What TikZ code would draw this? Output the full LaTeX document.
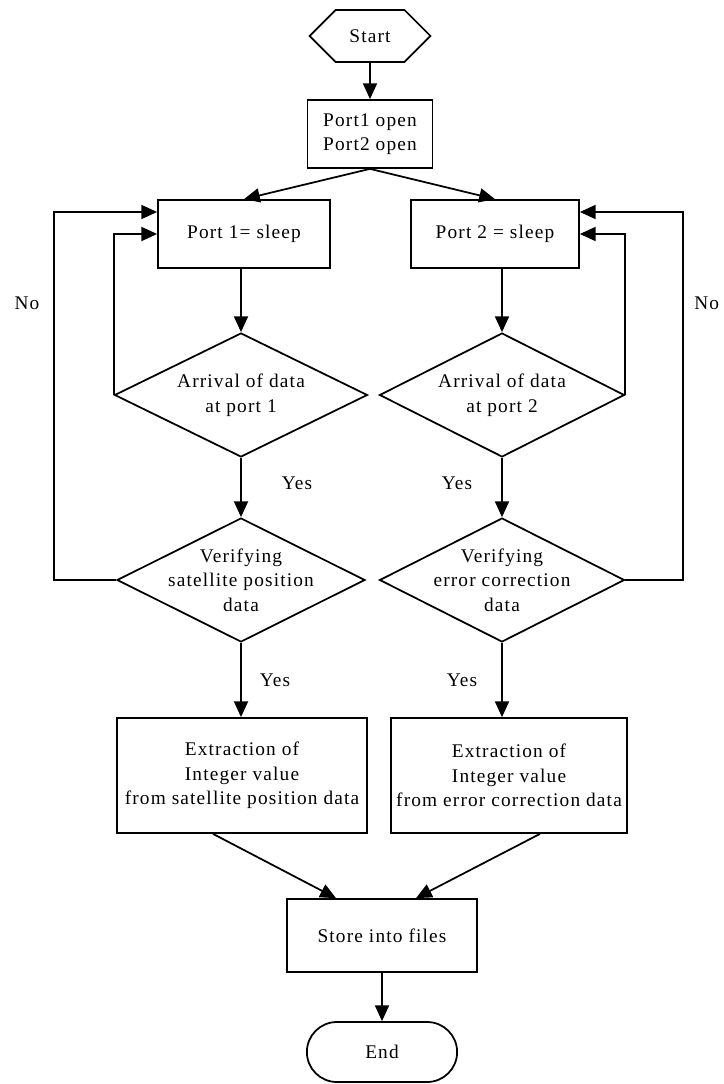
\documentclass[tikz,border=0pt]{standalone}
\usepackage{fontspec}
\setmainfont{Liberation Serif}[LetterSpace=6]
\usetikzlibrary{shapes.geometric, shapes.symbols, shapes.misc, arrows.meta}

\begin{document}
\begin{tikzpicture}[x=0.02cm, y=-0.02cm, >={Triangle[length=9pt,width=8pt]}, line width=1pt,
  every node/.style={font=\fontsize{11}{14}\selectfont},
  box/.style={draw, rectangle, align=center, inner sep=1pt},
  decision/.style={draw, diamond, aspect=2, align=center, inner sep=-4pt}]

\useasboundingbox (0,0) rectangle (723,1084);

% Nodes
\node (start) [draw, signal, signal to=west and east, minimum width=2.42cm, minimum height=1.04cm] at (370,36) {Start};
\node (ports) [box, minimum width=2.5cm, minimum height=1.36cm] at (370,134) {Port1 open\\Port2 open};
\node (sleepA) [box, minimum width=3.44cm, minimum height=1.36cm] at (244,234) {Port 1= sleep};
\node (sleepB) [box, minimum width=3.36cm, minimum height=1.36cm] at (495,234) {Port 2 = sleep};
\node (arriveA) [decision, minimum width=5.06cm, minimum height=2.48cm] at (241,395) {Arrival of data\\at port 1};
\node (arriveB) [decision, minimum width=4.9cm, minimum height=2.48cm] at (502,395) {Arrival of data\\at port 2};
\node (verifyA) [decision, minimum width=4.96cm, minimum height=2.48cm] at (241,580) {Verifying\\satellite position\\data};
\node (verifyB) [decision, minimum width=4.9cm, minimum height=2.48cm] at (502,580) {Verifying\\error correction\\data};
\node (extractA) [box, minimum width=5cm, minimum height=2.3cm] at (242,775.5) {Extraction of\\Integer value\\from satellite position data};
\node (extractB) [box, minimum width=4.72cm, minimum height=2.3cm] at (509,775.5) {Extraction of\\Integer value\\from error correction data};
\node (store) [box, minimum width=3.8cm, minimum height=1.46cm] at (382,935.5) {Store into files};
\node (finish) [draw, rounded rectangle, minimum width=3.24cm, minimum height=1.2cm] at (382,1052) {End};

% Labels
\node (noA) at (27,303) {No};
\node (noB) [anchor=east, inner sep=0pt] at (720,303) {No};
\node (yesA1) at (297,483) {Yes};
\node (yesB1) at (457,483) {Yes};
\node (yesA2) at (275,680) {Yes};
\node (yesB2) at (462,680) {Yes};

% Arrows
\draw[->] (start) -- (ports);
\draw[->] (ports.south) -- (sleepA.north);
\draw[->] (ports.south) -- (sleepB.north);
\draw[->] (arriveA.north |- sleepA.south) -- (arriveA.north);
\draw[->] (arriveB.north |- sleepB.south) -- (arriveB.north);
\draw[->] (arriveA.south) -- (verifyA.north);
\draw[->] (arriveB.south) -- (verifyB.north);
\draw[->] (verifyA.south) -- (verifyA.south |- extractA.north);
\draw[->] (verifyB.south) -- (verifyB.south |- extractB.north);

% Loops back
\draw[->] (arriveA.west) |- (sleepA.west);
\draw[->] (verifyA.west) -- ++(-62,0) |- ([yshift=0.44cm]sleepA.west);
\draw[->] (arriveB.east) |- (sleepB.east);
\draw[->] (verifyB.east) -- ++(58,0) |- ([yshift=0.44cm]sleepB.east);

% Bottom part
\draw[->] ([xshift=-0.58cm]extractA.south) -- ([xshift=-0.92cm]store.north);
\draw[->] ([xshift=0.62cm]extractB.south) -- ([xshift=0.68cm]store.north);
\draw[->] (store) -- (finish);

\end{tikzpicture}
\end{document}
